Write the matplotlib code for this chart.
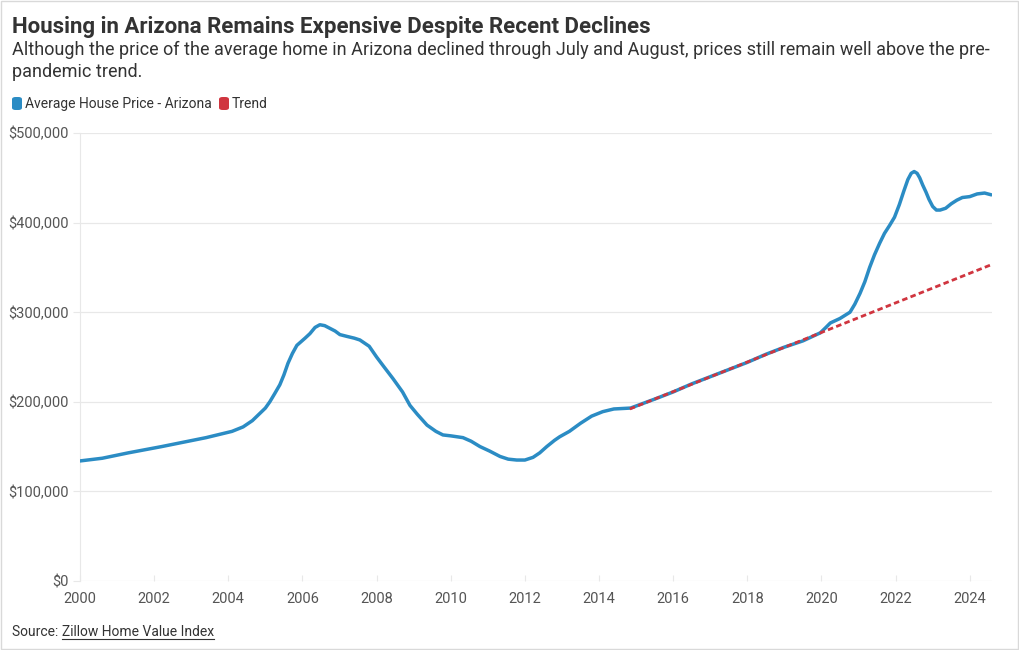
import matplotlib.pyplot as plt
from matplotlib.patches import FancyBboxPatch, Rectangle
from matplotlib.ticker import FuncFormatter

plt.rcParams['font.family'] = ['Roboto', 'DejaVu Sans']

# average house price, Arizona (thousands of $), decimal years
years = [2000.0, 2000.6, 2001.3, 2002.2, 2002.8, 2003.4, 2003.8, 2004.1, 2004.4, 2004.65,
         2004.85, 2005.0, 2005.12, 2005.25, 2005.39, 2005.5, 2005.61, 2005.73, 2005.85, 2005.96,
         2006.07, 2006.2, 2006.34, 2006.47, 2006.6, 2006.74, 2006.88, 2007.01, 2007.2, 2007.4,
         2007.55, 2007.8, 2008.0, 2008.2, 2008.44, 2008.7, 2008.9, 2009.1, 2009.36, 2009.6,
         2009.79, 2010.0, 2010.33, 2010.55, 2010.79, 2011.05, 2011.33, 2011.55, 2011.78, 2012.0,
         2012.22, 2012.4, 2012.59, 2012.8, 2012.94, 2013.2, 2013.5, 2013.8, 2014.1, 2014.4,
         2014.85, 2015.5, 2016.0, 2016.5, 2017.0, 2017.5, 2018.0, 2018.5, 2019.0, 2019.5,
         2019.97, 2020.12, 2020.24, 2020.5, 2020.77, 2020.9, 2021.04, 2021.17, 2021.3, 2021.43,
         2021.57, 2021.7, 2021.84, 2021.97, 2022.1, 2022.22, 2022.33, 2022.42, 2022.5, 2022.58,
         2022.65, 2022.73, 2022.82, 2022.9, 2023.0, 2023.1, 2023.2, 2023.35, 2023.5, 2023.65,
         2023.8, 2024.0, 2024.2, 2024.4, 2024.58]
price = [134, 137, 143, 150, 155, 160, 164, 167, 172, 179,
         187, 193, 200, 209, 219, 230, 243, 254, 263, 267,
         271, 276, 283, 286, 285, 282, 279, 275, 273, 271,
         269, 262, 250, 239, 226, 211, 196, 186, 174, 167,
         163, 162, 160, 156, 150, 145, 139, 136, 135, 135,
         138, 143, 150, 157, 161, 167, 176, 184, 189, 192,
         193, 203, 211, 220, 228, 236, 244, 253, 261, 268,
         277, 283, 288, 293, 300, 309, 321, 334, 350, 364,
         377, 388, 397, 406, 420, 435, 448, 455, 457, 455,
         450, 442, 434, 426, 418, 414, 414, 416, 421, 425,
         428, 429, 432, 433, 431]

trend_years = [2014.83, 2024.58]
trend_price = [192, 353]

xticks = list(range(2000, 2025, 2))
yticks = [0, 100, 200, 300, 400, 500]

BLUE = '#2b8cc4'
RED = '#d0353f'
TXT = '#333333'
TICK = '#555555'

fig = plt.figure(figsize=(10.2, 6.5), dpi=100)
ax = fig.add_axes([80/1020, 1-581/650, (992-80)/1020, (581-133)/650])

ax.plot(years, [p * 1000 for p in price], color=BLUE, lw=2.5, solid_capstyle='round',
        solid_joinstyle='round', zorder=3)
ax.plot(trend_years, [p * 1000 for p in trend_price], color=RED, lw=2.0,
        linestyle=(0, (2, 1.2)), zorder=4)

ax.set_xlim(2000, 2024.6)
ax.set_ylim(0, 500000)
ax.set_xticks(xticks)
ax.set_yticks([v * 1000 for v in yticks])
ax.yaxis.set_major_formatter(FuncFormatter(lambda v, p: '${:,.0f}'.format(v)))
ax.grid(axis='y', color='#e8e8e8', lw=0.9)
ax.set_axisbelow(True)
for s in ['top', 'right', 'bottom']:
    ax.spines[s].set_visible(False)
ax.spines['left'].set_color('#e8e8e8')
ax.tick_params(axis='y', length=5, color='#e8e8e8', labelsize=10.5, labelcolor=TICK, pad=3)
ax.tick_params(axis='x', length=4, color='#e8e8e8', labelsize=10.5, labelcolor=TICK, pad=8,
               direction='in')

# border around image
fig.patches.append(Rectangle((0.0005, 0.0008), 0.998, 0.998, transform=fig.transFigure,
                             fill=False, edgecolor='#d9d9d9', lw=1))

fig.text(12/1020, 1-33/650, 'Housing in Arizona Remains Expensive Despite Recent Declines',
         fontsize=16, fontweight='bold', color=TXT)
fig.text(12/1020, 1-55/650, 'Although the price of the average home in Arizona declined through '
         'July and August, prices still remain well above the pre-', fontsize=13, color=TXT)
fig.text(12/1020, 1-77/650, 'pandemic trend.', fontsize=13, color=TXT)

# legend
leg = [('Average House Price - Arizona', BLUE, 12), ('Trend', RED, 219)]
for label, col, x0 in leg:
    fig.patches.append(FancyBboxPatch((x0/1020, 1-110/650), 10/1020, 13/650,
                                      boxstyle='round,pad=0,rounding_size=0.0035',
                                      transform=fig.transFigure, facecolor=col, edgecolor='none'))
    fig.text((x0 + 13)/1020, 1-108/650, label, fontsize=10, color=TXT)

# source with underlined link
t1 = fig.text(12/1020, 1-636/650, 'Source: ', fontsize=10, color=TXT)
fig.canvas.draw()
r = fig.canvas.get_renderer()
bb = t1.get_window_extent(r)
x1 = bb.x1 / 1020
t2 = fig.text(x1, 1-636/650, 'Zillow Home Value Index', fontsize=10, color=TXT)
bb2 = t2.get_window_extent(r)
fig.add_artist(plt.Line2D([bb2.x0/1020, bb2.x1/1020], [1-639/650, 1-639/650],
                          transform=fig.transFigure, color=TXT, lw=0.8))

fig.savefig('out.png', dpi=100)
